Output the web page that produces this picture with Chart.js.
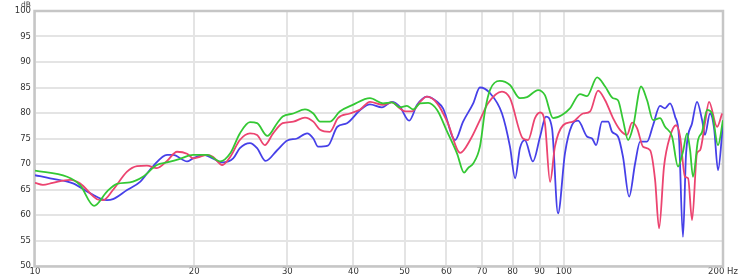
<!DOCTYPE html>
<html>
<head>
<meta charset="utf-8">
<script src="https://cdn.jsdelivr.net/npm/chart.js@4/dist/chart.umd.min.js"></script>
<style>
  html, body { margin: 0; padding: 0; background: #fff; }
  canvas { display: block; }
</style>
</head>
<body>
<canvas id="rta" width="740" height="280"></canvas>
<script>
// frequency ticks on the log axis
const xTicks = [10, 20, 30, 40, 50, 60, 70, 80, 90, 100, 200];

// green trace
const greenHz = [10, 11.5, 12.16, 12.93, 13.68, 14.29, 15.12, 16.0, 17.0, 17.77, 18.8, 19.9, 21.15, 22.4, 23.4, 24.4, 25.5, 26.3, 27.5, 28.7, 29.4, 30.8, 32.4, 33.6, 34.6, 36.1, 37.7, 39.9, 43.0, 45.5, 47.3, 49.0, 50.5, 51.9, 53.5, 55.4, 57.6, 60.2, 62.8, 64.8, 65.9, 67.4, 69.4, 71.0, 72.5, 75.7, 79.1, 82.6, 85.2, 89.4, 92.1, 95.4, 99.2, 102.7, 107.3, 110.6, 115.6, 119.7, 123.9, 126.6, 129.4, 132.3, 135.2, 140.0, 143.7, 147.5, 152.0, 155.4, 160.2, 164.4, 168.0, 171.0, 173.3, 175.5, 179.4, 182.6, 186.6, 190.7, 195.7, 200];
const greenDb = [68.7, 67.5, 65.9, 61.8, 64.6, 66.1, 66.4, 67.5, 69.8, 70.3, 71.0, 71.8, 71.8, 70.5, 72.1, 76.0, 78.2, 78.0, 75.5, 78.0, 79.3, 79.9, 80.7, 79.9, 78.3, 78.3, 80.3, 81.6, 82.9, 81.9, 82.1, 81.1, 81.4, 80.7, 81.9, 82.0, 80.6, 76.3, 72.1, 68.3, 69.2, 70.1, 73.4, 80.6, 84.5, 86.3, 85.5, 82.9, 83.1, 84.5, 83.5, 79.0, 79.6, 80.9, 83.7, 83.3, 87.0, 85.2, 82.9, 82.5, 78.6, 74.7, 77.3, 85.2, 82.5, 78.6, 79.0, 77.3, 75.4, 69.5, 72.4, 76.0, 72.7, 67.5, 74.7, 76.3, 80.6, 79.9, 73.7, 78.6];

// pink trace
const pinkHz = [10, 10.35, 10.8, 11.65, 12.16, 13.1, 13.45, 14.04, 14.93, 15.59, 16.28, 17.0, 17.77, 18.56, 19.39, 19.9, 20.5, 21.15, 21.7, 22.6, 23.4, 24.4, 25.5, 26.3, 27.2, 28.2, 29.4, 30.8, 32.4, 33.6, 34.6, 36.1, 37.4, 39.4, 41.2, 43.0, 45.5, 47.3, 49.0, 50.1, 51.6, 53.5, 55.1, 57.6, 60.2, 63.7, 66.5, 69.4, 71.9, 76.4, 79.1, 83.7, 85.6, 88.2, 90.2, 92.1, 94.2, 96.2, 99.7, 104.1, 108.7, 112.1, 116.1, 119.7, 123.9, 127.7, 131.7, 134.6, 137.6, 141.2, 145.6, 148.8, 151.4, 154.7, 158.8, 163.0, 165.9, 169.5, 171.8, 174.8, 178.6, 181.0, 184.9, 188.2, 194.9, 199.2];
const pinkDb = [66.3, 65.9, 66.3, 66.9, 66.2, 63.1, 62.9, 64.9, 68.5, 69.6, 69.7, 69.2, 70.6, 72.4, 72.0, 71.1, 71.4, 71.8, 71.4, 69.8, 71.4, 74.7, 76.0, 75.7, 73.7, 76.0, 78.0, 78.3, 79.1, 78.3, 76.7, 76.3, 79.0, 79.9, 80.7, 82.2, 81.6, 82.1, 80.9, 80.3, 80.3, 82.2, 83.2, 81.9, 78.3, 72.2, 74.7, 78.6, 81.9, 84.2, 82.9, 75.0, 74.7, 79.0, 80.1, 78.0, 66.5, 73.4, 77.6, 78.3, 79.9, 80.3, 84.4, 82.5, 79.0, 76.7, 75.7, 78.1, 77.0, 73.4, 72.7, 66.9, 57.4, 69.5, 75.4, 77.6, 75.4, 67.5, 67.2, 59.0, 72.1, 72.7, 78.0, 82.2, 77.3, 79.9];

// blue trace
const blueHz = [10, 10.68, 11.8, 12.7, 13.68, 14.04, 14.93, 15.8, 16.7, 17.77, 18.24, 19.39, 19.9, 20.8, 21.4, 22.6, 23.7, 24.4, 25.5, 26.3, 27.3, 28.7, 30.0, 31.3, 32.7, 33.6, 34.3, 35.8, 37.3, 38.9, 41.2, 43.0, 45.3, 47.3, 49.0, 51.0, 52.8, 55.1, 57.6, 59.1, 62.3, 64.5, 67.4, 69.4, 72.5, 76.4, 79.1, 80.9, 82.6, 84.4, 87.4, 90.2, 92.5, 95.0, 97.5, 100.5, 103.6, 106.4, 110.6, 113.1, 115.1, 118.1, 121.3, 123.4, 126.6, 129.4, 132.9, 136.4, 139.4, 143.7, 147.5, 152.0, 155.4, 158.8, 162.3, 165.1, 168.0, 170.3, 174.8, 178.6, 182.6, 184.9, 189.0, 192.4, 195.7, 200];
const blueDb = [67.8, 67.2, 66.2, 64.3, 62.9, 63.1, 64.9, 66.5, 69.5, 71.8, 71.8, 70.5, 71.1, 71.8, 71.4, 70.3, 71.1, 73.1, 74.1, 73.1, 70.6, 72.7, 74.6, 75.0, 76.0, 75.0, 73.4, 73.6, 77.3, 78.0, 80.6, 81.7, 81.1, 82.2, 81.2, 78.5, 81.6, 83.2, 82.2, 80.9, 74.7, 78.3, 81.9, 85.0, 83.9, 79.9, 73.4, 67.2, 73.1, 74.7, 70.5, 75.4, 79.3, 77.0, 60.3, 72.1, 77.6, 78.5, 75.4, 75.0, 73.7, 78.3, 78.3, 76.3, 75.4, 71.4, 63.6, 70.1, 74.4, 74.4, 77.6, 81.4, 80.9, 81.9, 79.3, 75.4, 55.7, 72.1, 78.0, 82.2, 78.6, 75.7, 79.9, 77.0, 68.8, 78.0];

const pts = (hz, db) => hz.map((f, i) => ({ x: f, y: db[i] }));

const labelFont = { family: 'DejaVu Sans', size: 8.5 };
const gridColor = '#e4e4e4';

// grey box round the plot and the small dB unit label
const framePlugin = {
  id: 'frame',
  beforeDatasetsDraw(chart) {
    const { ctx, chartArea: a } = chart;
    ctx.save();
    ctx.strokeStyle = '#c6c6c6';
    ctx.lineWidth = 2.5;
    ctx.strokeRect(a.left - 0.5, a.top, a.right - a.left + 0.5, a.bottom - a.top + 0.5);
    ctx.restore();
  },
  afterDraw(chart) {
    const { ctx } = chart;
    ctx.save();
    ctx.font = '7.5px "DejaVu Sans"';
    ctx.fillStyle = '#444';
    ctx.textAlign = 'center';
    ctx.textBaseline = 'middle';
    ctx.fillText('dB', 26, 5);
    ctx.restore();
  }
};

const line = (data, color) => ({
  data,
  borderColor: color,
  borderWidth: 1.8,
  pointRadius: 0,
  fill: false,
  cubicInterpolationMode: 'monotone'
});

new Chart(document.getElementById('rta').getContext('2d'), {
  type: 'line',
  data: {
    datasets: [
      line(pts(greenHz, greenDb), 'rgb(52,200,52)'),
      line(pts(pinkHz, pinkDb), 'rgb(236,68,112)'),
      line(pts(blueHz, blueDb), 'rgb(70,64,232)')
    ]
  },
  options: {
    responsive: false,
    animation: false,
    events: [],
    layout: { padding: { top: 11, right: 17, left: 0, bottom: 0 } },
    plugins: { legend: { display: false }, tooltip: { enabled: false } },
    scales: {
      x: {
        type: 'logarithmic',
        min: 10,
        max: 200,
        afterBuildTicks: s => { s.ticks = xTicks.map(v => ({ value: v })); },
        afterFit: s => { s.height = 14; },
        ticks: {
          autoSkip: false,
          maxRotation: 0,
          padding: 1,
          color: '#333',
          font: labelFont,
          callback: v => (v === 200 ? '200 Hz' : String(v))
        },
        grid: { color: gridColor, lineWidth: 2, drawTicks: false },
        border: { display: false }
      },
      y: {
        min: 50,
        max: 100,
        afterFit: s => { s.width = 35; },
        ticks: { stepSize: 5, padding: 4, color: '#333', font: labelFont },
        grid: { color: gridColor, lineWidth: 2, drawTicks: false },
        border: { display: false }
      }
    }
  },
  plugins: [framePlugin]
});
</script>
</body>
</html>
